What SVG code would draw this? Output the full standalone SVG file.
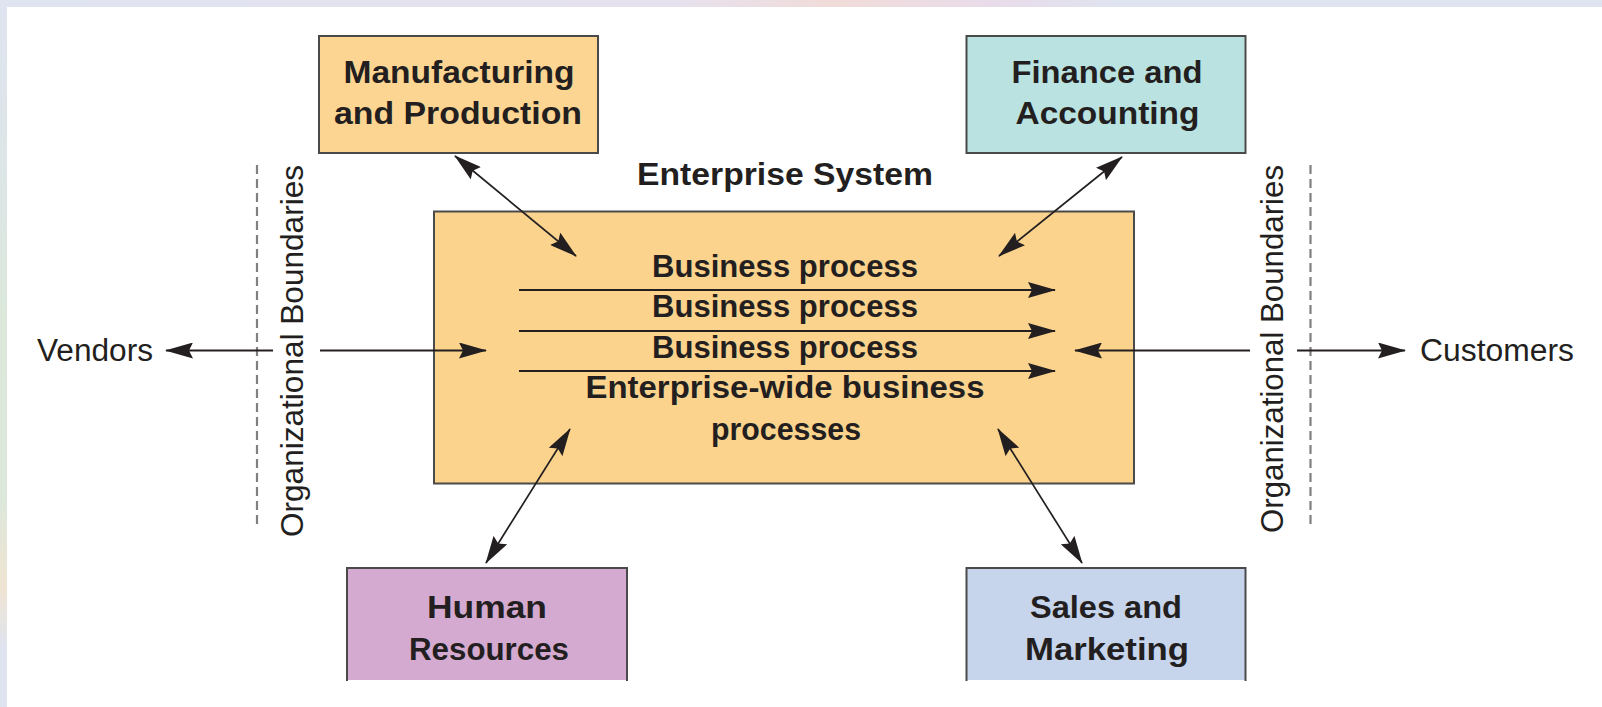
<svg xmlns="http://www.w3.org/2000/svg" width="1602" height="707" viewBox="0 0 1602 707">
<style>
.box{stroke:#4a4a4a;stroke-width:2}
.t{font-family:"Liberation Sans",Arial,sans-serif;font-weight:bold;font-size:31px;fill:#231f20;text-anchor:middle}
.r{font-family:"Liberation Sans",Arial,sans-serif;font-size:31px;fill:#231f20;text-anchor:middle}
.ln{stroke:#231f20;fill:none}
.dash{stroke:#808080;stroke-width:2.2;stroke-dasharray:9 5;fill:none}
</style>
<defs>
<marker id="ah" markerUnits="userSpaceOnUse" markerWidth="28" markerHeight="16" refX="27" refY="8" orient="auto-start-reverse" viewBox="0 0 28 16">
<path d="M0,0 L28,8 L0,16 L4,8 z" fill="#231f20"/>
</marker>
<linearGradient id="topg" x1="0" y1="0" x2="1" y2="0">
<stop offset="0" stop-color="#dfe4f0"/>
<stop offset="0.42" stop-color="#e6e1ee"/>
<stop offset="0.52" stop-color="#f1dcd9"/>
<stop offset="0.62" stop-color="#e9dcea"/>
<stop offset="0.7" stop-color="#dfe4f0"/>
<stop offset="1" stop-color="#dfe4f0"/>
</linearGradient>
<linearGradient id="leftg" x1="0" y1="0" x2="0" y2="1">
<stop offset="0" stop-color="#dfe4f0"/>
<stop offset="0.3" stop-color="#dde6e4"/>
<stop offset="0.45" stop-color="#dbe8da"/>
<stop offset="0.7" stop-color="#dce8dc"/>
<stop offset="0.83" stop-color="#efe4d2"/>
<stop offset="0.92" stop-color="#dfe4f0"/>
<stop offset="1" stop-color="#dfe4f0"/>
</linearGradient>
</defs>

<g id="background">
<rect x="0" y="0" width="1602" height="707" fill="#dfe4f0"/>
<rect x="0" y="0" width="1602" height="7" fill="url(#topg)"/>
<rect x="0" y="0" width="7" height="707" fill="url(#leftg)"/>
<rect x="7" y="7" width="1595" height="700" fill="#ffffff"/>
</g>

<g id="boundaries">
<line class="dash" x1="257" y1="165" x2="257" y2="526"/>
<line class="dash" x1="1310.5" y1="165" x2="1310.5" y2="526"/>
<text class="r" transform="translate(303,351) rotate(-90)" textLength="372" lengthAdjust="spacingAndGlyphs">Organizational Boundaries</text>
<text class="r" transform="translate(1283,349) rotate(-90)" textLength="368" lengthAdjust="spacingAndGlyphs">Organizational Boundaries</text>
</g>

<g id="enterprise">
<rect class="box" x="434" y="211.5" width="700" height="272" fill="#fcd38d"/>
<text class="t" x="785" y="185" textLength="296" lengthAdjust="spacingAndGlyphs">Enterprise System</text>
<text class="t" x="785" y="277" textLength="266" lengthAdjust="spacingAndGlyphs">Business process</text>
<text class="t" x="785" y="317" textLength="266" lengthAdjust="spacingAndGlyphs">Business process</text>
<text class="t" x="785" y="358" textLength="266" lengthAdjust="spacingAndGlyphs">Business process</text>
<text class="t" x="785" y="398" textLength="399" lengthAdjust="spacingAndGlyphs">Enterprise-wide business</text>
<text class="t" x="786" y="440" textLength="150" lengthAdjust="spacingAndGlyphs">processes</text>
</g>

<g id="manufacturing">
<rect class="box" x="319" y="36" width="279" height="117" fill="#fdd592"/>
<text class="t" x="459" y="83" textLength="231" lengthAdjust="spacingAndGlyphs">Manufacturing</text>
<text class="t" x="458" y="124" textLength="248" lengthAdjust="spacingAndGlyphs">and Production</text>
</g>

<g id="finance">
<rect class="box" x="966.5" y="36" width="279" height="117" fill="#b9e2e1"/>
<text class="t" x="1107" y="83" textLength="191" lengthAdjust="spacingAndGlyphs">Finance and</text>
<text class="t" x="1107.5" y="124" textLength="184" lengthAdjust="spacingAndGlyphs">Accounting</text>
</g>

<g id="hr">
<rect x="347" y="568" width="280" height="112" fill="#d4aad0"/>
<path class="box" d="M347,681 V568 H627 V681" fill="none"/>
<text class="t" x="487" y="618" textLength="120" lengthAdjust="spacingAndGlyphs">Human</text>
<text class="t" x="489" y="660" textLength="160" lengthAdjust="spacingAndGlyphs">Resources</text>
</g>

<g id="sales">
<rect x="966.5" y="568" width="279" height="112" fill="#c6d4ec"/>
<path class="box" d="M966.5,681 V568 H1245.5 V681" fill="none"/>
<text class="t" x="1106" y="618" textLength="152" lengthAdjust="spacingAndGlyphs">Sales and</text>
<text class="t" x="1107" y="660" textLength="164" lengthAdjust="spacingAndGlyphs">Marketing</text>
</g>

<g id="vendors">
<text class="r" x="95" y="361" textLength="116" lengthAdjust="spacingAndGlyphs">Vendors</text>
</g>
<g id="customers">
<text class="r" x="1497" y="361" textLength="154" lengthAdjust="spacingAndGlyphs">Customers</text>
</g>

<g id="connectors">
<line class="ln" stroke-width="1.7" x1="455" y1="156" x2="576" y2="256" marker-start="url(#ah)" marker-end="url(#ah)"/>
<line class="ln" stroke-width="1.7" x1="1122" y1="157" x2="999" y2="256" marker-start="url(#ah)" marker-end="url(#ah)"/>
<line class="ln" stroke-width="1.7" x1="570" y1="429" x2="486" y2="563" marker-start="url(#ah)" marker-end="url(#ah)"/>
<line class="ln" stroke-width="1.7" x1="998" y1="429" x2="1082" y2="563" marker-start="url(#ah)" marker-end="url(#ah)"/>
<line class="ln" stroke-width="2" x1="273" y1="350.5" x2="166" y2="350.5" marker-end="url(#ah)"/>
<line class="ln" stroke-width="2" x1="320" y1="350.5" x2="486" y2="350.5" marker-end="url(#ah)"/>
<line class="ln" stroke-width="2" x1="1250" y1="350.5" x2="1075" y2="350.5" marker-end="url(#ah)"/>
<line class="ln" stroke-width="2" x1="1297" y1="350.5" x2="1405" y2="350.5" marker-end="url(#ah)"/>
<line class="ln" stroke-width="2" x1="519" y1="290" x2="1055" y2="290" marker-end="url(#ah)"/>
<line class="ln" stroke-width="2" x1="519" y1="331" x2="1055" y2="331" marker-end="url(#ah)"/>
<line class="ln" stroke-width="2" x1="519" y1="371" x2="1055" y2="371" marker-end="url(#ah)"/>
</g>
</svg>
